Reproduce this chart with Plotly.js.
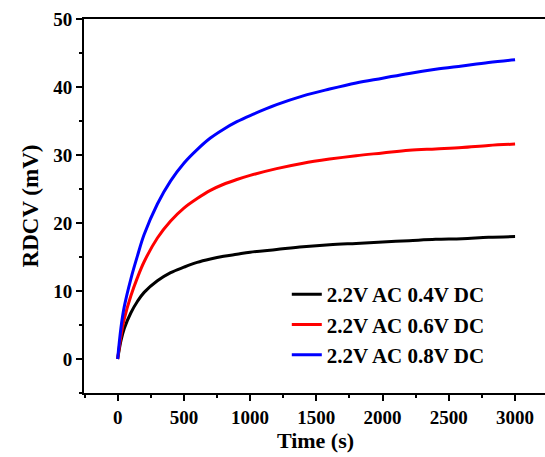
<!DOCTYPE html>
<html>
<head>
<meta charset="utf-8">
<script src="https://cdn.plot.ly/plotly-3.0.1.min.js"></script>
<style>
html, body { margin: 0; padding: 0; overflow: hidden; background: #fff; }
#chart { width: 560px; height: 457px; }
</style>
</head>
<body>
<div id="chart"></div>
<script>
// Time (s)
const time = [0, 25, 50, 100, 150, 200, 300, 400, 500, 600, 700, 800, 900, 1000, 1200, 1400, 1600, 1800, 2000, 2200, 2400, 2600, 2800, 3000];
// RDCV (mV)
const dc04 = [0, 2.7, 4.5, 6.8, 8.5, 9.8, 11.5, 12.7, 13.5, 14.2, 14.7, 15.1, 15.4, 15.7, 16.1, 16.5, 16.8, 17.0, 17.2, 17.4, 17.6, 17.7, 17.9, 18.0];
const dc06 = [0, 3.4, 5.9, 9.3, 12.0, 14.3, 17.8, 20.3, 22.2, 23.6, 24.8, 25.7, 26.4, 27.0, 28.0, 28.8, 29.4, 29.9, 30.3, 30.7, 30.9, 31.1, 31.4, 31.6];
const dc08 = [0, 4.6, 7.7, 11.8, 15.2, 18.3, 22.8, 26.2, 28.8, 30.8, 32.5, 33.8, 34.9, 35.8, 37.4, 38.7, 39.7, 40.6, 41.3, 42.0, 42.6, 43.1, 43.6, 44.0];
const seriesNames = ["2.2V AC 0.4V DC", "2.2V AC 0.6V DC", "2.2V AC 0.8V DC"];
const seriesColors = ["#000000", "#ff0000", "#0000ff"];
const seriesValues = [dc04, dc06, dc08];

const traces = seriesValues.map((v, i) => ({
  x: time, y: v, type: 'scatter', mode: 'lines', name: seriesNames[i],
  line: { color: seriesColors[i], width: 3, shape: 'spline', smoothing: 1 }
}));

const fontFam = '"Liberation Serif", "Times New Roman", serif';
const layout = {
  width: 560, height: 457,
  margin: { l: 84, r: 13, t: 19, b: 64 },
  paper_bgcolor: '#fff', plot_bgcolor: '#fff',
  font: { family: fontFam, color: '#000', weight: 'bold' },
  showlegend: true,
  legend: {
    x: 0.438, y: 0.318, xanchor: 'left', yanchor: 'top',
    bgcolor: 'rgba(0,0,0,0)', borderwidth: 0,
    font: { family: fontFam, size: 21, color: '#000', weight: 'bold' },
    tracegroupgap: 0
  },
  xaxis: {
    range: [-254, 3241],
    tickmode: 'linear', tick0: 0, dtick: 500,
    ticks: 'outside', ticklen: 6, tickwidth: 2, tickcolor: '#000',
    minor: { dtick: 250, tick0: 0, ticks: 'outside', ticklen: 3, tickwidth: 2, tickcolor: '#000' },
    showline: true, linewidth: 2, linecolor: '#000', mirror: true,
    showgrid: false, zeroline: false,
    tickfont: { family: fontFam, size: 19, color: '#000', weight: 'bold' },
    title: { text: 'Time (s)', font: { family: fontFam, size: 22, color: '#000', weight: 'bold' }, standoff: 4 }
  },
  yaxis: {
    range: [-5, 50],
    tickmode: 'linear', tick0: 0, dtick: 10,
    ticks: 'outside', ticklen: 6, tickwidth: 2, tickcolor: '#000',
    minor: { dtick: 5, tick0: 0, ticks: 'outside', ticklen: 3, tickwidth: 2, tickcolor: '#000' },
    showline: true, linewidth: 2, linecolor: '#000', mirror: true,
    showgrid: false, zeroline: false,
    tickfont: { family: fontFam, size: 19, color: '#000', weight: 'bold' },
    title: { text: 'RDCV (mV)', font: { family: fontFam, size: 23, color: '#000', weight: 'bold' }, standoff: 8 }
  }
};

Plotly.newPlot('chart', traces, layout, { displayModeBar: false, staticPlot: true });
</script>
</body>
</html>
